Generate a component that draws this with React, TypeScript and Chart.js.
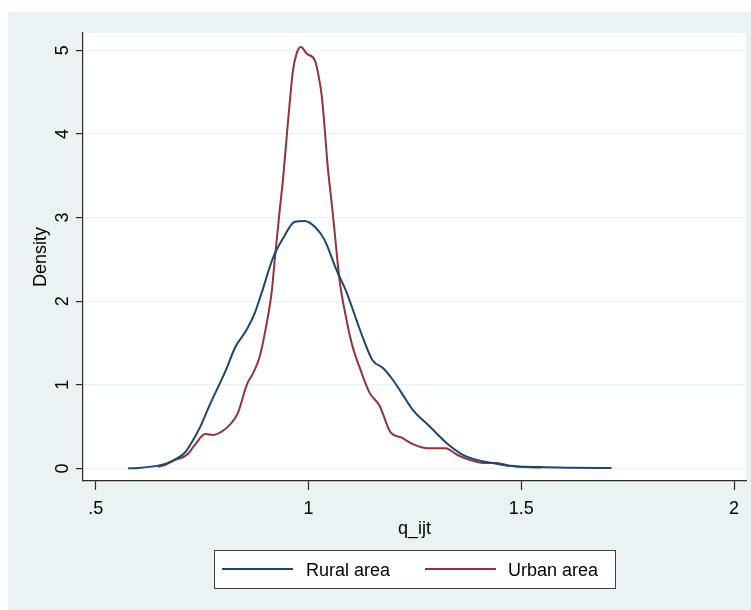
import { useEffect, useRef } from 'react';
import { Chart, registerables } from 'chart.js';

Chart.register(...registerables);

const seriesLabels = ['Rural area', 'Urban area'];
const seriesColors = ['#1a476f', '#90353b'];

const ruralX = [0.576, 0.6, 0.644, 0.667, 0.691, 0.71, 0.729, 0.745, 0.768, 0.792, 0.808, 0.827, 0.855, 0.874, 0.89, 0.916, 0.94, 0.968, 0.991, 1.015, 1.038, 1.066, 1.09, 1.113, 1.128, 1.151, 1.175, 1.198, 1.219, 1.245, 1.285, 1.325, 1.363, 1.395, 1.433, 1.473, 1.545, 1.62, 1.712];
const ruralY = [0.0, 0.005, 0.03, 0.06, 0.12, 0.19, 0.34, 0.49, 0.76, 1.02, 1.2, 1.44, 1.66, 1.86, 2.1, 2.51, 2.75, 2.95, 2.96, 2.89, 2.73, 2.37, 2.1, 1.77, 1.56, 1.29, 1.2, 1.06, 0.9, 0.7, 0.5, 0.3, 0.16, 0.1, 0.065, 0.03, 0.015, 0.008, 0.003];

const urbanX = [0.646, 0.663, 0.686, 0.714, 0.733, 0.757, 0.776, 0.796, 0.815, 0.834, 0.855, 0.87, 0.885, 0.902, 0.914, 0.921, 0.933, 0.94, 0.949, 0.956, 0.963, 0.972, 0.982, 0.996, 1.015, 1.022, 1.031, 1.038, 1.045, 1.055, 1.062, 1.073, 1.09, 1.104, 1.12, 1.144, 1.167, 1.193, 1.218, 1.245, 1.28, 1.322, 1.35, 1.38, 1.41, 1.442, 1.473, 1.51, 1.548];
const urbanY = [0.02, 0.04, 0.1, 0.16, 0.28, 0.41, 0.4, 0.44, 0.52, 0.66, 1.0, 1.14, 1.33, 1.74, 2.13, 2.51, 3.12, 3.45, 3.98, 4.38, 4.74, 4.96, 5.04, 4.96, 4.88, 4.74, 4.46, 4.07, 3.62, 3.15, 2.8, 2.25, 1.76, 1.45, 1.21, 0.9, 0.75, 0.43, 0.37, 0.29, 0.24, 0.24, 0.16, 0.1, 0.065, 0.065, 0.03, 0.015, 0.01];

const xTicks = [0.5, 1, 1.5, 2];
const xTickLabels = ['.5', '1', '1.5', '2'];
const yTicks = [0, 1, 2, 3, 4, 5];
const yTickLabels = ['0', '1', '2', '3', '4', '5'];
const xTitle = 'q_ijt';
const yTitle = 'Density';

const FONT = '18px "Liberation Sans", Arial, sans-serif';
const BG = '#eaf2f3';
const AXIS = '#2b2b2b';

const decorPlugin = {
  id: 'decor',
  beforeDraw(chart: any) {
    const { ctx, chartArea } = chart;
    ctx.save();
    ctx.fillStyle = '#ffffff';
    ctx.fillRect(0, 0, chart.width, chart.height);
    ctx.fillStyle = BG;
    ctx.fillRect(8, 12, chart.width - 8, chart.height - 12);
    ctx.fillStyle = '#ffffff';
    ctx.fillRect(chartArea.left, chartArea.top, chartArea.right - chartArea.left, chartArea.bottom - chartArea.top);
    ctx.restore();
  },
  afterDraw(chart: any) {
    const { ctx, chartArea } = chart;
    const xs = chart.scales.x;
    const ys = chart.scales.y;
    ctx.save();
    ctx.fillStyle = '#000000';
    ctx.font = FONT;
    ctx.textAlign = 'center';
    ctx.textBaseline = 'alphabetic';
    xTicks.forEach((v, i) => {
      ctx.fillText(xTickLabels[i], xs.getPixelForValue(v), 514);
    });
    yTicks.forEach((v, i) => {
      ctx.save();
      ctx.translate(68, ys.getPixelForValue(v));
      ctx.rotate(-Math.PI / 2);
      ctx.fillText(yTickLabels[i], 0, 0);
      ctx.restore();
    });
    ctx.fillText(xTitle, (chartArea.left + chartArea.right) / 2, 534);
    ctx.save();
    ctx.translate(46, (chartArea.top + chartArea.bottom) / 2);
    ctx.rotate(-Math.PI / 2);
    ctx.fillText(yTitle, 0, 0);
    ctx.restore();
    ctx.fillStyle = '#ffffff';
    ctx.fillRect(214, 550, 401, 38);
    ctx.strokeStyle = '#404040';
    ctx.lineWidth = 1;
    ctx.strokeRect(214.5, 550.5, 401, 38);
    const items = [
      { x0: 222, x1: 293, tx: 306 },
      { x0: 425, x1: 496, tx: 508 },
    ];
    chart.data.datasets.forEach((ds: any, i: number) => {
      const it = items[i];
      ctx.strokeStyle = ds.borderColor;
      ctx.lineWidth = 2;
      ctx.beginPath();
      ctx.moveTo(it.x0, 569);
      ctx.lineTo(it.x1, 569);
      ctx.stroke();
      ctx.fillStyle = '#000000';
      ctx.textAlign = 'left';
      ctx.fillText(ds.label, it.tx, 576);
    });
    ctx.restore();
  },
};

export default function App() {
  const ref = useRef<HTMLCanvasElement | null>(null);
  useEffect(() => {
    if (!ref.current) return;
    const mk = (xa: number[], ya: number[]) => xa.map((x, i) => ({ x, y: ya[i] }));
    const chart = new Chart(ref.current, {
      type: 'line',
      data: {
        datasets: [
          {
            label: seriesLabels[0],
            data: mk(ruralX, ruralY),
            borderColor: seriesColors[0],
            borderWidth: 2,
            pointRadius: 0,
            cubicInterpolationMode: 'monotone',
            fill: false,
          },
          {
            label: seriesLabels[1],
            data: mk(urbanX, urbanY),
            borderColor: seriesColors[1],
            borderWidth: 2,
            pointRadius: 0,
            cubicInterpolationMode: 'monotone',
            fill: false,
          },
        ],
      },
      options: {
        animation: false,
        responsive: false,
        devicePixelRatio: 1,
        layout: { padding: { left: 0, top: 33, right: 5, bottom: 0 } },
        plugins: { legend: { display: false }, tooltip: { enabled: false } },
        scales: {
          x: {
            type: 'linear',
            min: 0.4702,
            max: 2.028,
            afterBuildTicks: (s: any) => {
              s.ticks = xTicks.map((v) => ({ value: v }));
            },
            afterFit: (s: any) => {
              s.height = 129;
            },
            ticks: { display: false },
            grid: { drawOnChartArea: false, drawTicks: true, tickLength: 9, tickColor: AXIS, tickWidth: 1.2 },
            border: { display: true, color: AXIS, width: 1.2 },
          },
          y: {
            type: 'linear',
            min: -0.151,
            max: 5.207,
            afterBuildTicks: (s: any) => {
              s.ticks = yTicks.map((v) => ({ value: v }));
            },
            afterFit: (s: any) => {
              s.width = 83;
            },
            ticks: { display: false },
            grid: { color: BG, lineWidth: 1.2, drawTicks: true, tickLength: 7, tickColor: AXIS, tickWidth: 1.2 },
            border: { display: true, color: AXIS, width: 1.2 },
          },
        },
      },
      plugins: [decorPlugin],
    } as any);
    return () => chart.destroy();
  }, []);
  return (
    <div style={{ position: 'fixed', left: 0, top: 0, width: 751, height: 610 }}>
      <canvas ref={ref} width={751} height={610} style={{ width: 751, height: 610, display: 'block' }} />
    </div>
  );
}
